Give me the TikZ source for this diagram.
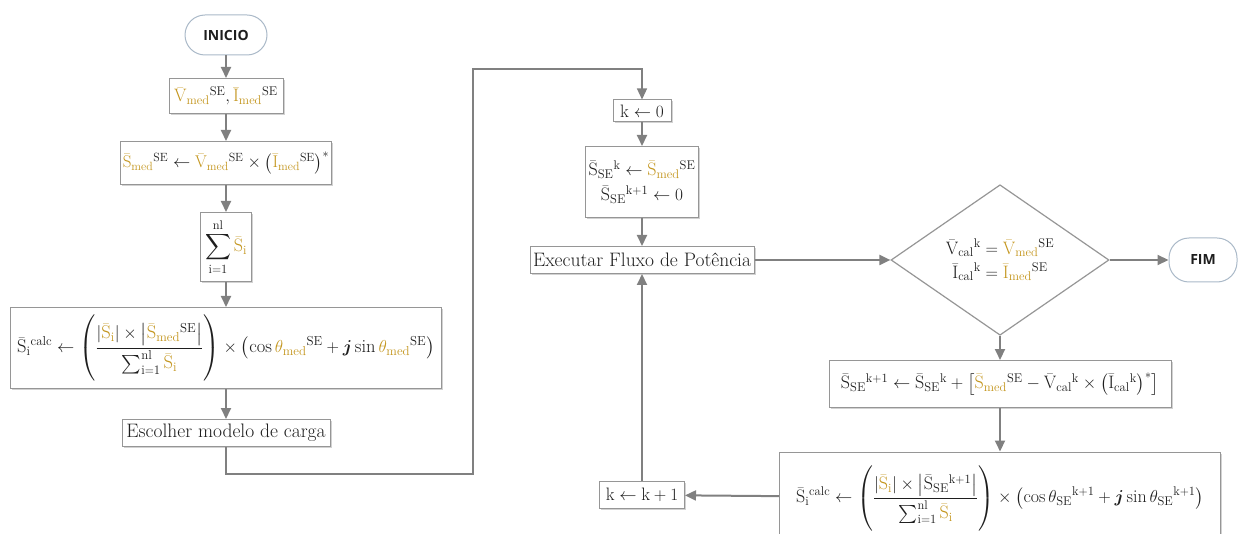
\documentclass[tikz,border=0pt]{standalone}
\usepackage{amsmath,amssymb}
\usepackage{fontspec}
\setsansfont{Open Sans}
\usetikzlibrary{arrows.meta,positioning,calc,shapes.geometric,shadows}
\definecolor{ouro}{RGB}{196,150,30}
\definecolor{cseta}{RGB}{128,128,128}
\definecolor{cborda}{RGB}{150,150,150}
\definecolor{cterm}{RGB}{170,185,200}
\definecolor{ctexto}{RGB}{30,30,30}
% grandezas medidas (em destaque)
\newcommand{\gmed}[1]{\textcolor{ouro}{\bar{\mathrm{#1}}_{\mathrm{med}}}{}^{\mathrm{SE}}}
\newcommand{\gtmed}{\textcolor{ouro}{\theta_{\mathrm{med}}}{}^{\mathrm{SE}}}
\newcommand{\gSi}{\textcolor{ouro}{\bar{\mathrm{S}}_{\mathrm{i}}}}
% grandezas calculadas
\newcommand{\SSE}[1]{\bar{\mathrm{S}}_{\mathrm{SE}}{}^{\mathrm{#1}}}
\newcommand{\xcal}[2]{\bar{\mathrm{#1}}_{\mathrm{cal}}{}^{\mathrm{#2}}}
\newcommand{\Scalc}{\bar{\mathrm{S}}_{\mathrm{i}}{}^{\mathrm{calc}}}
\newcommand{\tSE}{\theta_{\mathrm{SE}}{}^{\mathrm{k+1}}}

\begin{document}
\begin{tikzpicture}[x=1pt,y=-1pt,
    caixa/.style={draw=cborda, fill=white, line width=1pt, inner sep=3pt,
      drop shadow={shadow xshift=1.5pt, shadow yshift=-1.5pt, fill=black!35, opacity=.5},
      font=\fontsize{18}{21}\selectfont, text=ctexto},
    rotulo/.style={caixa, font=\fontsize{19.5}{22}\selectfont},
    term/.style={draw=cterm, fill=white, line width=1pt, rounded corners=20pt,
      font=\sffamily\bfseries\fontsize{14}{16}\selectfont, text=ctexto},
    seta/.style={draw=cseta, line width=2pt, -{Triangle[length=11pt,width=10pt]}}]
  \useasboundingbox (0,0) rectangle (1238,534);

  % --- coluna da esquerda
  \node[term, minimum width=82pt, minimum height=40pt] (inicio) at (226,35) {INICIO};
  \node[caixa, minimum width=114pt, minimum height=35pt] (medidas) at (226,96) {$\gmed{V},\gmed{I}$};
  \node[caixa, minimum width=208pt, minimum height=43pt, inner sep=2pt, font=\fontsize{17}{20}\selectfont] (smed) at (226,163)
    {$\gmed{S} \leftarrow \gmed{V} \times \left(\gmed{I}\right)^{*}$};
  \node[caixa, minimum width=51pt, minimum height=69pt] (soma) at (226,247)
    {$\displaystyle\sum_{\mathrm{i=1}}^{\mathrm{nl}} \gSi$};
  \node[caixa, minimum width=431pt, minimum height=81pt, inner sep=2pt, font=\fontsize{18.5}{21}\selectfont] (scalc) at (226,348)
    {$\displaystyle \Scalc \leftarrow \left(\rule[-26pt]{0pt}{64pt}\frac{|\gSi| \times \left|\gmed{S}\right|}{\sum_{\mathrm{i=1}}^{\mathrm{nl}} \gSi}\right) \times \left(\cos\gtmed + \boldsymbol{j}\sin\gtmed\right)$};
  \node[rotulo, minimum width=208pt, minimum height=27pt] (carga) at (226,433) {Escolher modelo de carga};

  % --- laco do fluxo de potencia
  \node[caixa, minimum width=58pt, minimum height=22pt] (kzero) at (642,111) {$\mathrm{k} \leftarrow 0$};
  \node[caixa, minimum width=112pt, minimum height=71pt, align=center] (sse) at (642,182)
    {$\SSE{k} \leftarrow \gmed{S}$\\[4pt]$\SSE{k+1} \leftarrow 0$};
  \node[rotulo, minimum width=212pt, minimum height=27pt] (fluxo) at (642,260) {Executar Fluxo de Potência};
  \node[draw=cborda, line width=1.2pt, diamond, minimum width=218pt, minimum height=142pt, inner sep=0pt,
    align=center, font=\fontsize{18}{21}\selectfont, text=ctexto] (teste) at (1000,260)
    {$\xcal{V}{k} = \gmed{V}$\\[3pt]$\xcal{I}{k} = \gmed{I}$};
  \node[term, minimum width=68pt, minimum height=44pt] (fim) at (1203,260) {FIM};
  \node[caixa, minimum width=342pt, minimum height=47pt, inner sep=2pt, font=\fontsize{18}{21}\selectfont] (atualiza) at (1000,384)
    {$\SSE{k+1} \leftarrow \SSE{k} + \left[\gmed{S} - \xcal{V}{k} \times \left(\xcal{I}{k}\right)^{*}\right]$};
  \node[caixa, minimum width=441pt, minimum height=92pt, inner sep=2pt, font=\fontsize{18}{21}\selectfont] (scalck) at (1000,498)
    {$\displaystyle \Scalc \leftarrow \left(\rule[-26pt]{0pt}{64pt}\frac{|\gSi| \times \left|\SSE{k+1}\right|}{\sum_{\mathrm{i=1}}^{\mathrm{nl}} \gSi}\right) \times \left(\cos\tSE + \boldsymbol{j}\sin\tSE\right)$};
  \node[caixa, minimum width=85pt, minimum height=27pt] (kmais) at (642,495) {$\mathrm{k} \leftarrow \mathrm{k}+1$};

  % --- ligacoes
  \draw[seta] (inicio) -- (medidas);
  \draw[seta] (medidas) -- (smed);
  \draw[seta] (smed) -- (soma);
  \draw[seta] (soma) -- (scalc);
  \draw[seta] (scalc) -- (carga);
  \coordinate (dobraA) at (473,474);
  \coordinate (dobraB) at (473,69);
  \draw[seta, line width=1.2pt] (carga) |- (dobraA) -- (dobraB) -| (kzero);
  \draw[seta] (kzero) -- (sse);
  \draw[seta] (sse) -- (fluxo);
  \draw[seta] (fluxo) -- (teste);
  \draw[seta] (teste) -- (fim);
  \draw[seta] (teste) -- (atualiza);
  \draw[seta] (atualiza) -- (scalck);
  \draw[seta] (scalck) -- (kmais);
  \draw[seta] (kmais) -- (fluxo);
\end{tikzpicture}
\end{document}
